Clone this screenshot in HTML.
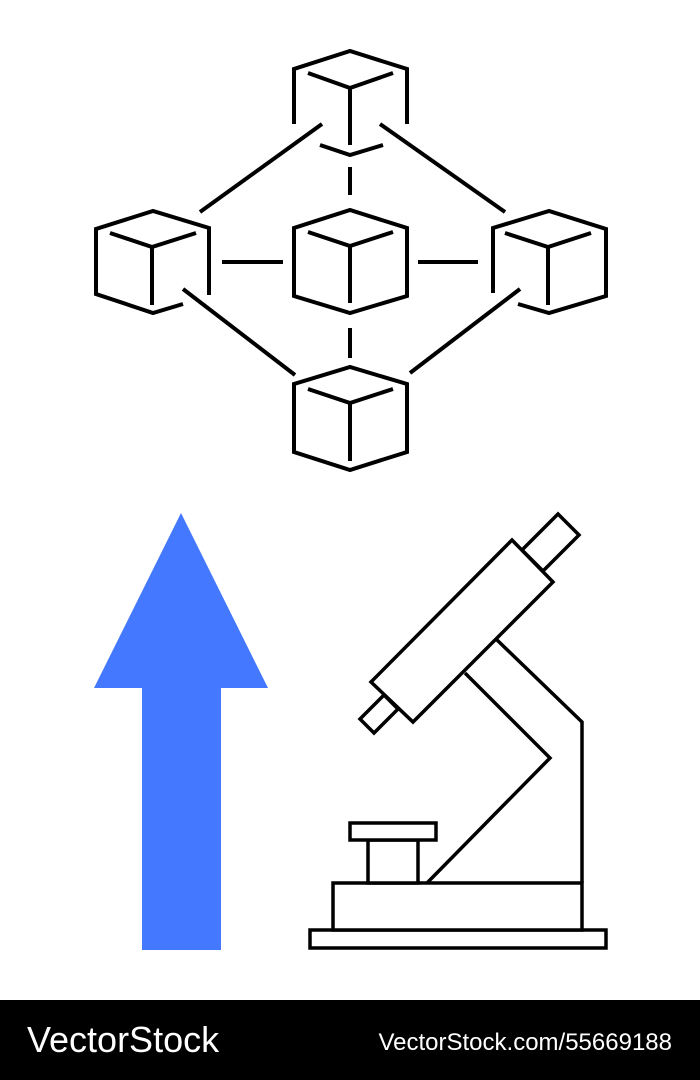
<!DOCTYPE html>
<html><head><style>
html,body{margin:0;padding:0;background:#fff;width:700px;height:1080px;overflow:hidden}
.f{position:absolute;left:0;top:1000px;width:700px;height:80px;background:#000;color:#fff;font-family:"Liberation Sans",sans-serif}
</style></head><body>
<svg width="700" height="1000" style="position:absolute;left:0;top:0">
<g fill="none" stroke="#000" stroke-width="4" stroke-linejoin="miter">
<path d="M294,124 L294,69 L350,51 L407,69 L407,124"/>
<path d="M308,73 L350,88 L393,73 M350,88 L350,145 M320,145 L350,155 L383,145"/>
<path d="M209,295 L209,228 L153,211 L96,229 L96,294 L153,313 L183,304"/>
<path d="M110,233 L152,247 L196,233 M152,247 L152,305"/>
<path d="M294,296 L294,228 L350,210 L407,228 L407,296 L350,313 Z"/>
<path d="M308,232 L350,246 L393,232 M350,246 L350,303"/>
<path d="M493,293 L493,228 L549,211 L606,229 L606,296 L549,313 L518,304"/>
<path d="M505,233 L548,247 L591,233 M548,247 L548,305"/>
<path d="M294,452 L294,384 L350,367 L407,384 L407,452 L350,470 Z"/>
<path d="M308,389 L350,403 L393,389 M350,403 L350,461"/>
</g>
<g stroke="#000" stroke-width="4">
<line x1="200" y1="212" x2="322" y2="124"/>
<line x1="380" y1="124" x2="505" y2="212"/>
<line x1="222" y1="262" x2="283" y2="262"/>
<line x1="418" y1="262" x2="478" y2="262"/>
<line x1="183" y1="289" x2="295" y2="375"/>
<line x1="520" y1="289" x2="410" y2="373"/>
<line x1="350" y1="167" x2="350" y2="195"/>
<line x1="350" y1="328" x2="350" y2="358"/>
</g>
<polygon points="181,513 268,688 221,688 221,950 142,950 142,688 94,688" fill="#4479ff"/>
<g fill="#fff" stroke="#000" stroke-width="3.5">
<polyline points="427,883 550,758 465,673" fill="none"/>
<polyline points="582,883 582,722 497,640" fill="none"/>
<rect x="310" y="930" width="296" height="18"/>
<rect x="333" y="883" width="249" height="47"/>
<rect x="368" y="840" width="50" height="43"/>
<rect x="350" y="823" width="86" height="17"/>
<polygon points="522,550 558,514 579,535 543,571"/>
<polygon points="384,695 360,719 374,733 398,709"/>
<polygon points="371,682 512,540 553,582 413,722"/>
</g>
</svg>
<div class="f">
<div style="position:absolute;left:27px;top:19px;font-size:36px;letter-spacing:0px">VectorStock</div>
<div style="position:absolute;right:28px;top:29px;font-size:24px">VectorStock.com/55669188</div>
</div>
</body></html>
